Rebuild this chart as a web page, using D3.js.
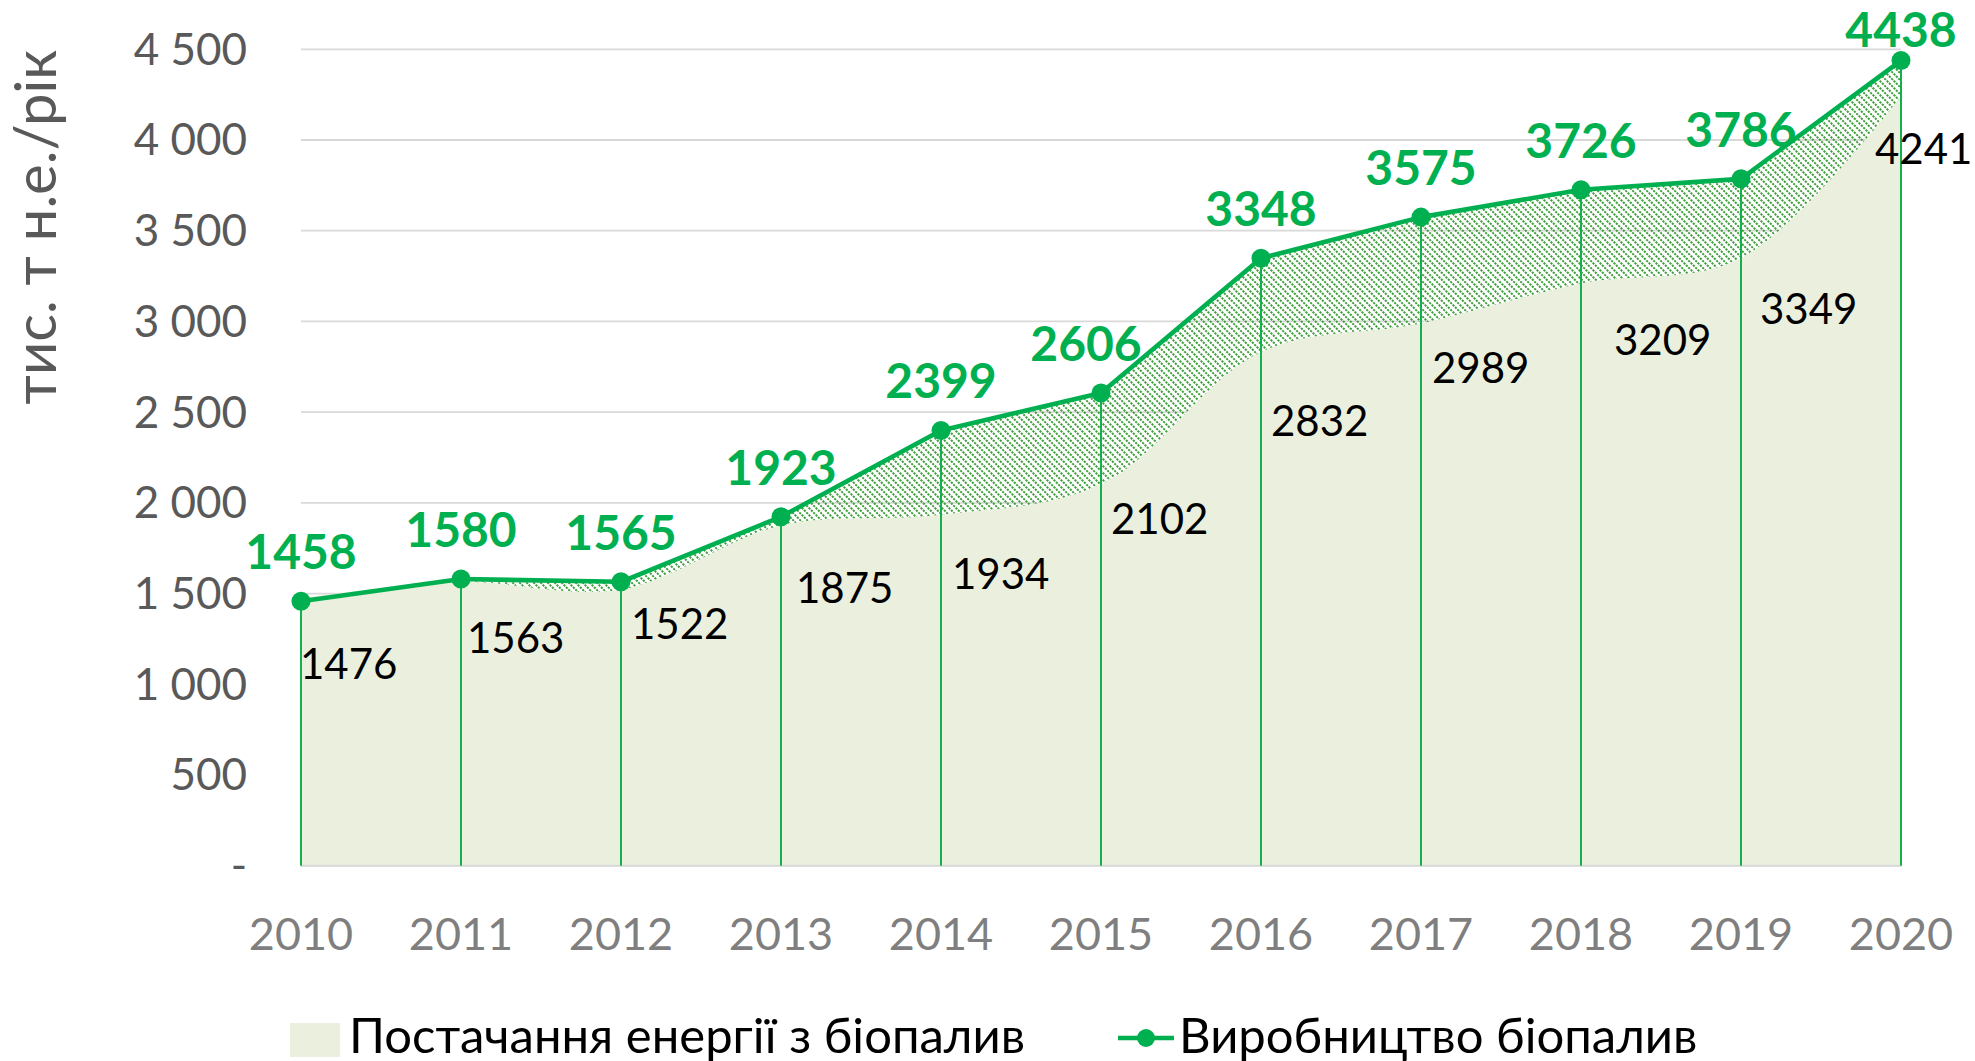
<!DOCTYPE html>
<html>
<head>
<meta charset="utf-8">
<script src="https://cdn.jsdelivr.net/npm/d3@7"></script>
<style>
  body { margin:0; background:#fff; }
  svg { display:block; font-family: Lato, "Open Sans", sans-serif; }
</style>
</head>
<body>
<svg id="chart" width="1975" height="1061"></svg>
<script>
// дані
const years = [2010, 2011, 2012, 2013, 2014, 2015, 2016, 2017, 2018, 2019, 2020];
const production = [1458, 1580, 1565, 1923, 2399, 2606, 3348, 3575, 3726, 3786, 4438];
const supply = [1476, 1563, 1522, 1875, 1934, 2102, 2832, 2989, 3209, 3349, 4241];
const yTicks = [0, 500, 1000, 1500, 2000, 2500, 3000, 3500, 4000, 4500];
const yTitle = "тис. т н.е./рік";
const legendSupply = "Постачання енергії з біопалив";
const legendProd = "Виробництво біопалив";

// ручні зсуви підписів (як у вихідному файлі)
const supplyLabelDx = [-1, 6, 10, 15, 11, 10, 10, 11, 33, 19, -26];
const supplyLabelDy = [81, 71, 49, 77, 74, 50, 84, 60, 71, 66, 68];
const prodLabelDx = [0, 0, 0, 0, 0, -15, 0, 0, 0, 0, 0];

const GREEN = "#00b050";

const svg = d3.select("#chart");

const x = d3.scalePoint().domain(years).range([301, 1901]);
const y = d3.scaleLinear().domain([0, 4500]).range([865.7, 49.3]);

// штрихування
const defs = svg.append("defs");
const pat = defs.append("pattern")
  .attr("id", "hatch")
  .attr("patternUnits", "userSpaceOnUse")
  .attr("width", 7).attr("height", 7);
pat.append("path")
  .attr("d", "M-1,-1 L8,8 M-8,-1 L1,8 M6,-1 L15,8")
  .attr("stroke", "#3f9f3a")
  .attr("stroke-width", 2)
  .attr("stroke-dasharray", "2.2,1.1");

// сітка
svg.append("g")
  .selectAll("line")
  .data(yTicks)
  .enter().append("line")
  .attr("x1", x(years[0])).attr("x2", x(years[years.length-1]))
  .attr("y1", d => y(d)).attr("y2", d => y(d))
  .attr("stroke", "#d9d9d9")
  .attr("stroke-width", 1.8);

const pts = years.map((yr, i) => ({ yr, p: production[i], s: supply[i], i }));

// площа виробництва (штрих)
svg.append("path")
  .datum(pts)
  .attr("fill", "url(#hatch)")
  .attr("d", d3.area().x(d => x(d.yr)).y0(y(0)).y1(d => y(d.p)));

// площа постачання
svg.append("path")
  .datum(pts)
  .attr("fill", "#ebf0de")
  .attr("d", d3.area().curve(d3.curveCatmullRom.alpha(0.5))
    .x(d => x(d.yr)).y0(y(0)).y1(d => y(d.s)));

// вісь X (нижня лінія)
svg.append("line")
  .attr("x1", x(years[0])).attr("x2", x(years[years.length-1]))
  .attr("y1", y(0)).attr("y2", y(0))
  .attr("stroke", "#d9d9d9").attr("stroke-width", 2);

// лінії падіння
svg.append("g")
  .selectAll("line")
  .data(pts)
  .enter().append("line")
  .attr("x1", d => x(d.yr)).attr("x2", d => x(d.yr))
  .attr("y1", d => y(d.p)).attr("y2", y(0))
  .attr("stroke", "#14b04c")
  .attr("stroke-width", 2);

// лінія виробництва
svg.append("path")
  .datum(pts)
  .attr("fill", "none")
  .attr("stroke", GREEN)
  .attr("stroke-width", 4.6)
  .attr("stroke-linejoin", "round")
  .attr("d", d3.line().x(d => x(d.yr)).y(d => y(d.p)));

svg.append("g")
  .selectAll("circle")
  .data(pts)
  .enter().append("circle")
  .attr("cx", d => x(d.yr)).attr("cy", d => y(d.p))
  .attr("r", 9.5)
  .attr("fill", GREEN);

// підписи постачання
svg.append("g")
  .selectAll("text")
  .data(pts)
  .enter().append("text")
  .attr("x", d => x(d.yr) + supplyLabelDx[d.i])
  .attr("y", d => y(d.s) + supplyLabelDy[d.i])
  .attr("fill", "#000")
  .style("font-size", "42px")
  .text(d => d.s);

// підписи виробництва
svg.append("g")
  .selectAll("text")
  .data(pts)
  .enter().append("text")
  .attr("x", d => x(d.yr) + prodLabelDx[d.i])
  .attr("y", d => Math.max(y(d.p) - 32, 47))
  .attr("text-anchor", "middle")
  .attr("fill", GREEN)
  .style("font-size", "48px")
  .style("font-weight", "700")
  .text(d => d.p);

// вісь Y
const fmt = v => v === 0 ? "-" : d3.format(",")(v).replace(/,/g, " ");
svg.append("g")
  .selectAll("text")
  .data(yTicks)
  .enter().append("text")
  .attr("x", 247)
  .attr("y", d => y(d))
  .attr("dy", "0.35em")
  .attr("text-anchor", "end")
  .attr("fill", "#595959")
  .style("font-size", "44px")
  .text(fmt);

// роки
svg.append("g")
  .selectAll("text")
  .data(years)
  .enter().append("text")
  .attr("x", d => x(d))
  .attr("y", 950)
  .attr("text-anchor", "middle")
  .attr("fill", "#7f7f7f")
  .style("font-size", "45px")
  .text(d => d);

// назва осі Y
svg.append("text")
  .attr("transform", "translate(56,227) rotate(-90)")
  .attr("text-anchor", "middle")
  .attr("fill", "#595959")
  .style("font-size", "58px")
  .text(yTitle);

// легенда
const lg = svg.append("g");
lg.append("rect")
  .attr("x", 290).attr("y", 1023).attr("width", 50).attr("height", 34)
  .attr("fill", "#ebf0de");
lg.append("text")
  .attr("x", 349).attr("y", 1053)
  .attr("fill", "#000")
  .style("font-size", "49px")
  .text(legendSupply);
lg.append("line")
  .attr("x1", 1118).attr("x2", 1174).attr("y1", 1038).attr("y2", 1038)
  .attr("stroke", GREEN).attr("stroke-width", 4.6);
lg.append("circle")
  .attr("cx", 1146).attr("cy", 1038).attr("r", 9).attr("fill", GREEN);
lg.append("text")
  .attr("x", 1179).attr("y", 1053)
  .attr("fill", "#000")
  .style("font-size", "49px")
  .text(legendProd);
</script>
</body>
</html>
